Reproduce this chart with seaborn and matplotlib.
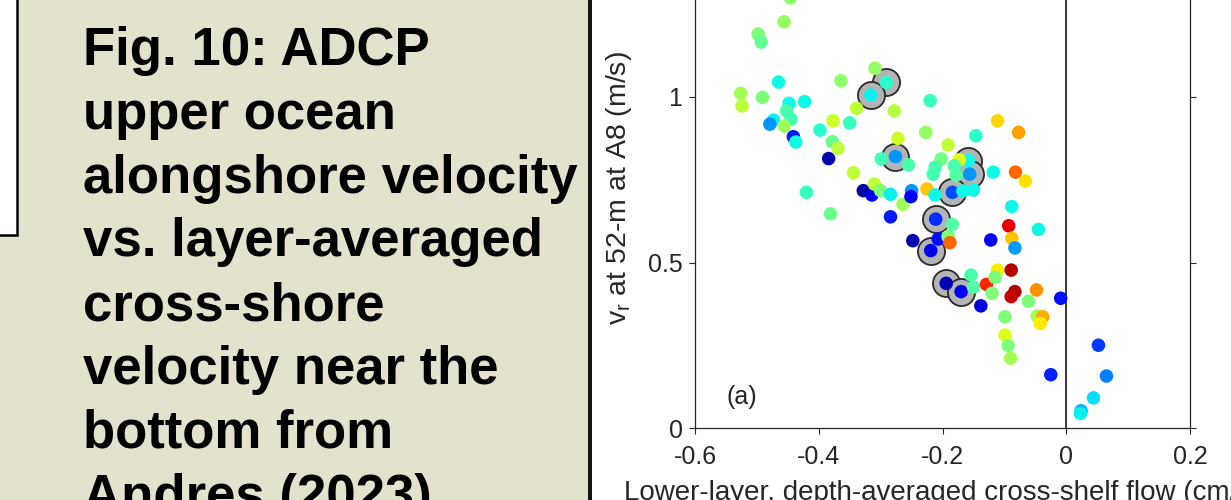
import numpy as np
import pandas as pd
import matplotlib
matplotlib.use("Agg")
import matplotlib.pyplot as plt
from matplotlib.patches import Rectangle
import seaborn as sns

sns.set_style("white")
plt.rcParams['font.family'] = ['Liberation Sans', 'DejaVu Sans']
plt.rcParams['mathtext.default'] = 'regular'
plt.rcParams['axes.unicode_minus'] = False

# lower-layer cross-shelf flow, v_r at 52 m, colour value (jet scale 0..1)
flow = [-0.446, -0.456, -0.498, -0.493, -0.526, -0.524, -0.491, -0.465, -0.448, -0.452,
        -0.445, -0.423, -0.473, -0.479, -0.456, -0.441, -0.437, -0.398, -0.377, -0.350,
        -0.364, -0.309, -0.291, -0.316, -0.339, -0.278, -0.378, -0.369, -0.384, -0.272,
        -0.276, -0.299, -0.255, -0.344, -0.420, -0.381, -0.328, -0.314, -0.310, -0.300,
        -0.284, -0.264, -0.284, -0.250, -0.251, -0.220, -0.227, -0.191, -0.146, -0.111,
        -0.077, -0.202, -0.212, -0.215, -0.158, -0.173, -0.156, -0.181, -0.178, -0.184,
        -0.167, -0.150, -0.118, -0.082, -0.066, -0.225, -0.212, -0.088, -0.093, -0.045,
        -0.122, -0.088, -0.083, -0.211, -0.184, -0.248, -0.207, -0.191, -0.188, -0.219,
        -0.194, -0.170, -0.154, -0.150, -0.129, -0.111, -0.115, -0.120, -0.089, -0.083,
        -0.089, -0.138, -0.061, -0.048, -0.047, -0.038, -0.042, -0.009, -0.099, -0.099,
        -0.094, -0.090, -0.025, 0.052, 0.065, 0.044, 0.024, 0.023]
vr = [1.299, 1.227, 1.190, 1.166, 1.011, 0.973, 0.999, 1.045, 0.981, 0.958,
      0.933, 0.986, 0.930, 0.918, 0.912, 0.880, 0.864, 0.900, 0.928, 0.922,
      1.049, 1.087, 1.044, 1.006, 0.966, 0.958, 0.865, 0.845, 0.814, 0.875,
      0.820, 0.813, 0.795, 0.771, 0.712, 0.647, 0.717, 0.704, 0.737, 0.717,
      0.706, 0.676, 0.638, 0.717, 0.699, 0.989, 0.893, 0.855, 0.883, 0.928,
      0.893, 0.813, 0.788, 0.767, 0.808, 0.810, 0.767, 0.792, 0.764, 0.712,
      0.716, 0.719, 0.773, 0.773, 0.746, 0.722, 0.704, 0.669, 0.611, 0.600,
      0.568, 0.573, 0.544, 0.631, 0.615, 0.566, 0.571, 0.578, 0.560, 0.536,
      0.437, 0.412, 0.462, 0.426, 0.434, 0.477, 0.455, 0.407, 0.477, 0.412,
      0.397, 0.369, 0.383, 0.417, 0.338, 0.336, 0.316, 0.392, 0.336, 0.281,
      0.249, 0.211, 0.161, 0.250, 0.157, 0.091, 0.052, 0.044]
cval = [0.52, 0.53, 0.50, 0.47, 0.55, 0.58, 0.50, 0.37, 0.37, 0.44,
        0.43, 0.37, 0.36, 0.27, 0.54, 0.15, 0.37, 0.40, 0.60, 0.42,
        0.52, 0.53, 0.40, 0.36, 0.58, 0.57, 0.48, 0.58, 0.04, 0.60,
        0.27, 0.43, 0.44, 0.58, 0.42, 0.48, 0.03, 0.10, 0.58, 0.50,
        0.36, 0.54, 0.15, 0.27, 0.12, 0.42, 0.53, 0.58, 0.40, 0.68,
        0.74, 0.49, 0.44, 0.43, 0.37, 0.62, 0.27, 0.44, 0.45, 0.20,
        0.37, 0.37, 0.37, 0.80, 0.67, 0.70, 0.37, 0.37, 0.91, 0.37,
        0.12, 0.70, 0.28, 0.17, 0.45, 0.04, 0.14, 0.50, 0.80, 0.10,
        0.05, 0.10, 0.44, 0.45, 0.87, 0.66, 0.50, 0.50, 0.95, 0.96,
        0.94, 0.08, 0.50, 0.75, 0.55, 0.73, 0.66, 0.14, 0.50, 0.62,
        0.50, 0.55, 0.16, 0.18, 0.25, 0.34, 0.30, 0.36]

# circled events
circ_flow = [-0.291, -0.316, -0.276, -0.158, -0.156, -0.184, -0.211, -0.219, -0.194, -0.170]
circ_vr = [1.044, 1.006, 0.820, 0.808, 0.767, 0.712, 0.631, 0.536, 0.437, 0.412]

xticks = [-0.6, -0.4, -0.2, 0, 0.2]
xtick_labels = ['-0.6', '-0.4', '-0.2', '0', '0.2']
yticks = [0, 0.5, 1]
ytick_labels = ['0', '0.5', '1']

caption = ["Fig. 10: ADCP", "upper ocean", "alongshore velocity", "vs. layer-averaged",
           "cross-shore", "velocity near the", "bottom from", "Andres (2023)"]

frame = pd.DataFrame({'flow': flow, 'vr': vr, 'c': cval})
circ = pd.DataFrame({'flow': circ_flow, 'vr': circ_vr})

W, H = 1231, 500
fig = plt.figure(figsize=(W / 100, H / 100), dpi=100)

# slide side panel
fig.patches.append(Rectangle((0, 0), 588 / W, 1, transform=fig.transFigure,
                             facecolor='#e3e2cd', edgecolor='none', zorder=0))
fig.patches.append(Rectangle((588 / W, 0), 4 / W, 1, transform=fig.transFigure,
                             facecolor='#151515', edgecolor='none', zorder=1))
fig.patches.append(Rectangle((-10 / W, 1 - 235 / H), 27 / W, 245 / H, transform=fig.transFigure,
                             facecolor='white', edgecolor='black', linewidth=1.8, zorder=1))
for i, line in enumerate(caption):
    fig.text(83 / W, 1 - (65 + i * 63.8) / H, line, fontsize=38, fontweight='bold',
             ha='left', va='baseline', color='black')

ax = fig.add_axes([695 / W, 72 / H, 495 / W, 496.5 / H])
ax.axvline(0, color='black', lw=1.1, zorder=1)
sns.scatterplot(data=circ, x='flow', y='vr', s=380, color='#b4b4b4', edgecolor='#2a2a2a',
                linewidth=1.3, ax=ax, zorder=2)
sns.scatterplot(data=frame, x='flow', y='vr', hue='c', palette=matplotlib.colormaps['jet'],
                hue_norm=(0, 1), s=95, linewidth=0, legend=False, ax=ax, zorder=3)

ax.set_xlim(-0.6, 0.2)
ax.set_ylim(0, 1.5)
ax.set_xticks(xticks)
ax.set_xticklabels(xtick_labels)
ax.set_yticks(yticks)
ax.set_yticklabels(ytick_labels)
ax.tick_params(direction='out', length=4, width=0.8, colors='#262626', labelsize=18,
               bottom=True, left=True, right=True, top=False, labelright=False)
ax.tick_params(axis='x', pad=8)
ax.tick_params(axis='y', pad=5)
for sp in ax.spines.values():
    sp.set_color('#262626')
    sp.set_linewidth(0.9)

ax.set_xlabel('Lower-layer, depth-averaged cross-shelf flow (cm/s)', fontsize=20,
              color='#262626', labelpad=8)
ax.set_ylabel('v$_r$ at 52-m at A8 (m/s)', fontsize=20.5, color='#262626')
ax.yaxis.set_label_coords(-0.123, 0.483)
ax.text(-0.524, 0.094, '(a)', fontsize=18, ha='center', va='center', color='#262626')

fig.savefig('out.png', dpi=100)
